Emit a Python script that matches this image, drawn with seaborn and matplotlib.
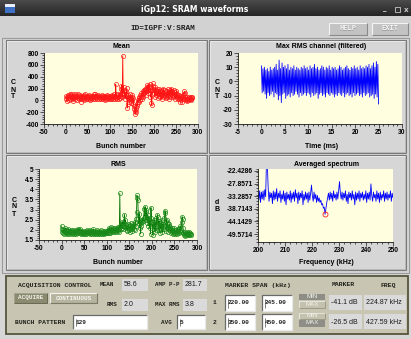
import numpy as np
import matplotlib
matplotlib.use("Agg")
import matplotlib.pyplot as plt
import seaborn as sns
from matplotlib.patches import Rectangle
from matplotlib.ticker import MultipleLocator

# ---------------------------------------------------------------- data
mean_cnt = [
    70, 20, -10, 60, 90, 40, 10, 80, 110, 50, 30, 90, 70, 20, 100, 60, -10, 40, 80, 50,
    100, 30, 60, 90, 10, 50, 80, 40, 110, 70, 20, 60, 90, 30, -20, 50, 80, 60, 20, 70,
    90, 40, 10, 60, 100, 50, 30, 70, 40, 80, 20, 60, 90, 50, 10, 40, 70, 30, 60, 80,
    40, 20, 70, 100, 50, 30, 60, 110, 80, 40, 60, 20, 70, 90, 50, 30, 60, 40, 80, 50,
    20, 60, 90, 40, 70, 30, 50, 80, 10, 60, 40, 70, 30, 90, 50, 20, 60, 40, 70, 30,
    50, 80, 20, 60, 40, 90, 30, 70, 50, 100, 60, 30, 80, 270, 40, 110, 60, 20, 90, 50,
    30, 80, 110, 40, 70, 200, 250, 100, 60, 750, 120, 230, 180, 70, 140, 30, 90, 160, 210, -130,
    -60, 40, 90, 20, -20, 60, 100, 30, -40, 50, 90, 10, -60, 40, -100, -150, -180, -230, -140, -200,
    -120, -60, -90, 0, -30, 40, -20, 60, 10, 90, 50, 120, 30, 80, 150, 100, 60, 170, 120, 200,
    140, 90, 180, 230, 150, 260, 200, 120, 250, 180, 280, 220, 60, 150, -40, -80, 170, 290, 240, 200,
    130, 180, 60, 220, 150, 90, 200, 120, 40, 160, 110, 190, 70, 140, 50, 180, 100, 130, 20, 160,
    90, 200, 50, 130, 170, 80, 110, 40, 150, 100, 60, 190, 120, 30, 140, 80, 170, 60, 110, 200,
    130, 90, 160, 50, 120, 180, 70, 140, 30, 110, 80, 150, 40, 100, 20, 60, 90, 30, -20, 70,
    40, 80, 10, 50, -30, 60, 20, 90, 110, 150, 130, 60, 30, 10, 50, -10, 20, 40, 0, 30,
    50, 20, 40, 10, 60, 30, 50, 40,
]

rms_cnt = [
    2.2, 2.05, 1.9, 1.85, 2.0, 1.95, 1.8, 1.9, 2.1, 1.85, 1.95, 2.0, 1.8, 1.9, 1.85, 2.05, 1.9, 1.8, 1.95, 1.9,
    1.85, 2.0, 1.9, 1.8, 1.95, 1.85, 2.0, 1.9, 1.8, 1.85, 1.95, 1.9, 1.8, 2.0, 1.85, 1.9, 2.05, 1.95, 2.0, 1.85,
    2.05, 1.9, 1.85, 1.8, 1.95, 1.9, 1.85, 1.8, 1.9, 1.95, 1.85, 1.8, 1.9, 1.85, 1.95, 1.8, 1.9, 2.0, 1.85, 1.9,
    1.95, 1.85, 1.8, 1.9, 2.0, 1.85, 1.9, 1.8, 1.95, 1.85, 2.05, 1.9, 1.8, 1.85, 1.95, 1.9, 1.8, 1.85, 1.9, 2.0,
    1.85, 1.8, 1.9, 1.95, 1.85, 1.8, 1.9, 1.85, 2.0, 1.9, 1.8, 1.85, 1.95, 1.9, 1.85, 1.8, 1.9, 1.95, 1.85, 1.9,
    1.95, 1.85, 1.9, 2.0, 1.85, 2.1, 1.9, 1.85, 2.05, 1.95, 2.15, 1.9, 2.0, 2.1, 1.95, 2.05, 1.9, 2.0, 2.1, 1.95,
    2.0, 1.9, 2.05, 2.1, 1.95, 2.15, 2.0, 1.9, 2.05, 3.8, 2.2, 2.05, 2.3, 2.1, 2.4, 2.2, 2.05, 2.35, 2.2, 2.75,
    2.3, 2.5, 2.1, 2.25, 2.0, 2.15, 1.95, 2.1, 2.3, 2.0, 2.2, 1.9, 2.1, 2.35, 2.05, 2.2, 1.95, 2.1, 2.3, 2.15,
    2.05, 2.25, 2.0, 2.4, 2.2, 2.55, 2.9, 3.7, 3.55, 3.45, 2.6, 2.3, 2.8, 2.1, 2.4, 1.8, 2.2, 2.35, 2.5, 2.4,
    2.55, 2.45, 2.6, 3.05, 2.7, 3.15, 2.9, 2.5, 3.0, 2.6, 2.35, 2.75, 2.2, 2.6, 2.5, 2.1, 2.45, 1.8, 3.1, 2.6,
    2.4, 2.2, 1.75, 2.3, 2.05, 2.5, 2.15, 1.9, 2.35, 2.0, 2.6, 2.2, 2.75, 2.65, 2.3, 2.0, 2.45, 1.85, 2.2, 2.1,
    2.35, 2.0, 2.5, 1.9, 2.15, 2.3, 2.05, 2.2, 2.6, 2.95, 2.85, 2.45, 1.95, 2.5, 2.1, 2.35, 1.9, 2.2, 2.05, 2.3,
    2.0, 2.15, 1.85, 2.05, 1.9, 2.1, 1.8, 1.95, 2.0, 1.85, 2.1, 1.9, 1.8, 2.0, 1.85, 1.95, 1.8, 2.05, 1.9, 2.0,
    1.85, 2.1, 1.95, 2.2, 1.9, 2.0, 2.4, 2.65, 2.55, 2.1, 1.85, 1.9, 1.75, 1.8, 1.7, 1.85, 1.75, 1.8, 1.9, 1.75,
    1.8, 1.85, 1.75, 1.9, 1.8, 1.85, 1.75, 1.8,
]

max_rms_signal = [
    11, -8, 9, -7, 10, -9, 8, -12, 9, -8, 7, -10, 10, -9, 8, -7, 9, -11, 10, -8,
    12, -9, 8, -13, 15, -10, 9, -15, 13, -9, 10, -8, 11, -12, 9, -10, 12, -9, 8, -11,
    10, -8, 9, -10, 11, -9, 8, -7, 10, -9, 9, -11, 8, -8, 10, -10, 9, -9, 11, -8,
    9, -10, 10, -8, 8, -9, 11, -11, 9, -8, 10, -10, 12, -9, 9, -8, 10, -12, 8, -9,
    9, -8, 11, -10, 10, -9, 8, -11, 10, -8, 9, -9, 11, -10, 8, -8, 10, -9, 9, -11,
    10, -9, 8, -10, 9, -8, 11, -9, 10, -10, 8, -8, 9, -11, 10, -9, 11, -8, 9, -10,
    8, -9, 10, -11, 9, -8, 11, -10, 9, -9, 10, -8, 8, -10, 11, -9, 9, -11, 10, -8,
    9, -10, 11, -9, 10, -8, 12, -11, 9, -10, 11, -9, 13, -12, 10, -9, 14, -11, 12, -16,
]
signal_span_ms = (0.0, 25.0)

spectrum_db = [
    -32.0, -35.0, -31.0, -36.0, -31.5, -34.5, -31.0, -35.0, -30.5, -33.5,
    -18.0, -19.5, -30.0, -35.5, -31.5, -34.0, -32.0, -36.5, -31.0, -35.0,
    -31.5, -34.5, -30.0, -35.5, -32.0, -34.0, -31.0, -36.0, -32.5, -34.5,
    -31.0, -35.5, -32.0, -37.0, -31.5, -34.5, -32.5, -35.0, -31.0, -36.0,
    -32.0, -34.5, -31.5, -35.5, -30.5, -34.0, -32.0, -36.5, -31.5, -35.0,
    -32.0, -34.0, -31.0, -37.0, -32.5, -35.0, -31.5, -34.5, -32.0, -36.0,
    -31.5, -35.0, -32.0, -28.5, -33.0, -35.5, -31.5, -34.5, -32.5, -36.0,
    -33.0, -35.5, -34.0, -36.0, -35.0, -37.0, -36.5, -38.5, -38.0, -41.1,
    -38.5, -36.0, -34.0, -32.0, -35.0, -31.5, -34.5, -32.0, -35.5, -31.0,
    -34.0, -32.5, -35.0, -31.5, -34.5, -30.5, -27.0, -32.0, -34.5, -31.5,
    -35.0, -32.0, -34.0, -31.0, -35.5, -32.5, -36.5, -31.5, -34.0, -32.0,
    -35.0, -31.0, -34.5, -32.5, -37.0, -31.5, -35.0, -32.0, -34.5, -31.0,
    -35.5, -32.0, -34.0, -31.5, -35.0, -32.5, -34.5, -31.0, -36.0, -32.0,
    -34.5, -31.5, -35.0, -28.0, -33.0, -35.5, -31.5, -34.0, -32.5, -35.5,
    -31.0, -34.5, -32.0, -36.0, -31.5, -35.0, -32.5, -34.0, -31.0, -35.5,
    -32.0, -34.5, -31.5, -35.0, -32.5, -34.0, -31.0, -35.5, -32.0, -34.0,
]
spectrum_span_khz = (200.0, 250.0)

spectrum_yticks = [-22.4286, -27.8571, -33.2857, -38.7143, -44.1429, -49.5714]
spectrum_yticklabels = ["-22.4286", "-27.8571", "-33.2857", "-38.7143", "-44.1429", "-49.5714"]

marker1_db, marker1_khz = -41.1, 224.87
marker2_db, marker2_khz = -26.5, 427.59
marker_spans = [("220.00", "245.00"), ("350.00", "450.00")]
mean_value, amp_pp = 58.6, 281.7
rms_value, max_rms = 2.0, 3.8
bunch_pattern, avg_count = "129", "5"

# ---------------------------------------------------------------- style
sns.set_style("ticks")
plt.rcParams["font.family"] = ["Liberation Sans", "DejaVu Sans"]
plt.rcParams["font.weight"] = "bold"
plt.rcParams["axes.unicode_minus"] = False

WIN_BG = "#d6d6d6"
PLOT_BG = "#ffffe0"
CTRL_BG = "#c8c6b2"
CTRL_EDGE = "#55553c"
MONO = ["Liberation Mono", "DejaVu Sans Mono"]

W, H = 411, 339
fig = plt.figure(figsize=(W / 100, H / 100), dpi=100)
fig.patch.set_facecolor(WIN_BG)

bg = fig.add_axes([0, 0, 1, 1])
bg.axis("off")


def rect(x0, y0, x1, y1, fc, ec="none", lw=0.8, z=1):
    bg.add_patch(Rectangle((x0, y0), x1 - x0, y1 - y0, facecolor=fc,
                           edgecolor=ec, lw=lw, zorder=z))


def bevel(x0, y0, x1, y1, tl, br, lw=0.8, z=3):
    bg.plot([x0, x0, x1], [y1, y0, y0], color=tl, lw=lw, zorder=z, solid_capstyle="butt")
    bg.plot([x0, x1, x1], [y1, y1, y0], color=br, lw=lw, zorder=z, solid_capstyle="butt")


def txt(x, y, s, size=4.6, color="#20201a", family=None, weight="bold", ha="center", **kw):
    bg.text(x, y, s, fontsize=size, color=color, family=family or MONO, weight=weight,
            ha=ha, va="center", zorder=6, **kw)


def px_axes(x0, y0, x1, y1):
    return fig.add_axes([x0 / W, 1 - y1 / H, (x1 - x0) / W, (y1 - y0) / H])


# ---------------------------------------------------------------- window chrome
grad = np.linspace(0, 1, 16).reshape(-1, 1)
bg.imshow(grad, extent=(0, W, 16, 0), cmap=plt.matplotlib.colors.LinearSegmentedColormap.from_list(
    "tb", ["#4a4a4a", "#262626"]), aspect="auto", zorder=1)
bg.set_xlim(0, W)
bg.set_ylim(H, 0)
rect(5, 4, 15, 13, "#3d6fc4", z=2)
rect(5, 4, 15, 6.5, "#e8eefa", z=2)
txt(195, 9, "iGp12: SRAM waveforms", size=5.6, color="white", family=["DejaVu Sans"])
txt(385, 9.5, "_", size=5, color="#c8c8c8", family=["DejaVu Sans"])
rect(394.5, 7, 399.5, 11.5, "none", "#c8c8c8", lw=0.6, z=3)
txt(406, 9.5, "x", size=5.2, color="#c8c8c8", family=["DejaVu Sans"])

rect(0, 16, W, 38, "#d2d2d2", z=1)
txt(163, 29, "ID=IGPF:V:SRAM", size=5.6, color="#1e1e1e")
for (bx0, bx1, lab) in [(329, 367, "HELP"), (372, 408, "EXIT")]:
    rect(bx0, 23, bx1, 35, "#c3c3c3", z=2)
    bevel(bx0, 23, bx1, 35, "#f4f4f4", "#8a8a8a", lw=0.8)
    txt((bx0 + bx1) / 2 + 0.4, 29.4, lab, size=5.0, color="#9a9a9a")
    txt((bx0 + bx1) / 2, 29, lab, size=5.0, color="#f8f8f8")

# plot frames
rect(2, 38, 409, 273, "none", "#9a9a9a", lw=0.8, z=1)
for (px0, py0, px1, py1) in [(6, 40, 207, 153), (209, 40, 406, 153),
                             (6, 155, 207, 270), (209, 155, 406, 270)]:
    rect(px0, py0, px1, py1, WIN_BG, "#7a7a7a", lw=0.8, z=1)
    bevel(px0 + 1, py0 + 1, px1 - 1, py1 - 1, "#f2f2f2", "#b0b0b0", lw=0.5, z=2)

# ---------------------------------------------------------------- plots


def style_axes(ax, xlim, ylim, xmajor, xminor, ymajor, yminor):
    ax.set_facecolor(PLOT_BG)
    ax.set_xlim(*xlim)
    ax.set_ylim(*ylim)
    ax.set_xlabel("")
    ax.set_ylabel("")
    for s in ("top", "right"):
        ax.spines[s].set_visible(False)
    for s in ("left", "bottom"):
        ax.spines[s].set_linewidth(0.6)
        ax.spines[s].set_color("#1a1a1a")
    ax.xaxis.set_major_locator(MultipleLocator(xmajor))
    ax.xaxis.set_minor_locator(MultipleLocator(xminor))
    if ymajor is not None:
        ax.yaxis.set_major_locator(MultipleLocator(ymajor))
        ax.yaxis.set_minor_locator(MultipleLocator(yminor))
    ax.tick_params(which="both", direction="out", width=0.5, color="#1a1a1a",
                   labelsize=4.8, pad=1.2, labelcolor="black")
    ax.tick_params(which="major", length=2.6)
    ax.tick_params(which="minor", length=1.4)


bunch = np.arange(len(mean_cnt))

# Mean
ax_mean = px_axes(44, 53, 198, 124)
sns.lineplot(x=bunch, y=mean_cnt, ax=ax_mean, color="#ff0000", lw=0.6, marker="o",
             markersize=3.0, markerfacecolor="none", markeredgecolor="#ff1a1a",
             markeredgewidth=0.5, estimator=None, sort=False)
style_axes(ax_mean, (-50, 300), (-400, 800), 50, 10, 200, 40)

# Max RMS channel
t_ms = np.linspace(*signal_span_ms, len(max_rms_signal))
ax_sig = px_axes(238, 53, 402, 124)
sns.lineplot(x=t_ms, y=max_rms_signal, ax=ax_sig, color="#0000ff", lw=0.6,
             estimator=None, sort=False)
style_axes(ax_sig, (-5, 30), (-30, 20), 5, 1, 10, 2)

# RMS
ax_rms = px_axes(39, 169, 197, 240)
sns.lineplot(x=bunch, y=rms_cnt, ax=ax_rms, color="#007000", lw=0.6, marker="o",
             markersize=3.0, markerfacecolor="none", markeredgecolor="#1a8a1a",
             markeredgewidth=0.5, estimator=None, sort=False)
style_axes(ax_rms, (-50, 300), (1.5, 5), 50, 10, 0.5, 0.1)
ax_rms.yaxis.set_major_formatter(plt.FuncFormatter(lambda v, p: f"{v:g}"))

# Averaged spectrum
f_khz = np.linspace(*spectrum_span_khz, len(spectrum_db))
ax_sp = px_axes(258, 169, 393, 242)
sns.lineplot(x=f_khz, y=spectrum_db, ax=ax_sp, color="#0000ff", lw=0.6,
             estimator=None, sort=False)
ax_sp.plot([marker1_khz], [marker1_db], marker="o", markersize=3.6,
           markerfacecolor="none", markeredgecolor="#ff2020", markeredgewidth=0.6,
           zorder=5, clip_on=False)
style_axes(ax_sp, (200, 250), (-53.0, -21.6), 10, 2, None, None)
ax_sp.set_yticks(spectrum_yticks)
ax_sp.set_yticklabels(spectrum_yticklabels)
ax_sp.yaxis.set_minor_locator(MultipleLocator(38 / 7 / 4))

# titles, axis labels
lab_kw = dict(size=5.0, color="black", family=["Liberation Sans"])
txt(121, 47, "Mean", **lab_kw)
txt(121, 146, "Bunch number", **lab_kw)
txt(13, 90, "C\nN\nT", linespacing=1.0, **lab_kw)
txt(321, 47, "Max RMS channel (filtered)", **lab_kw)
txt(322, 146, "Time (ms)", **lab_kw)
txt(217, 90, "C\nN\nT", linespacing=1.0, **lab_kw)
txt(118, 164, "RMS", **lab_kw)
txt(118, 262, "Bunch number", **lab_kw)
txt(14, 207, "C\nN\nT", linespacing=1.0, **lab_kw)
txt(326, 164, "Averaged spectrum", **lab_kw)
txt(326, 262, "Frequency (kHz)", **lab_kw)
txt(217, 206, "d\nB", linespacing=1.0, **lab_kw)

# ---------------------------------------------------------------- control panel
rect(6, 276, 408, 334, CTRL_BG, CTRL_EDGE, lw=1.3, z=1)

txt(18, 285, "ACQUISITION CONTROL", ha="left")
txt(100, 285, "MEAN", ha="left", size=4.3)
txt(155, 285, "AMP P-P", ha="left", size=4.2)
txt(107, 305, "RMS", ha="left", size=4.3)
txt(155, 305, "MAX RMS", ha="left", size=4.2)
txt(15, 322, "BUNCH PATTERN", ha="left")
txt(161, 322, "AVG", ha="left", size=4.3)

val_kw = dict(size=5.0, color="#1a1a1a", family=["Liberation Sans"], weight="normal", ha="left")
for (x0, x1, y0, y1, s) in [(122, 148, 279, 291, f"{mean_value:.1f}"),
                            (183, 207, 279, 291, f"{amp_pp:.1f}"),
                            (122, 148, 299, 311, f"{rms_value:.1f}"),
                            (183, 207, 299, 311, f"{max_rms:.1f}")]:
    rect(x0, y0, x1, y1, "#dadada", z=2)
    txt(x0 + 1.5, (y0 + y1) / 2, s, **val_kw)

# buttons
rect(14, 293, 47, 303, "#8a8a70", z=2)
bevel(14, 293, 47, 303, "#a8a890", "#5a5a44", lw=0.6)
txt(30.5, 298, "ACQUIRE", size=4.3, color="#f2f2ea")
rect(50, 293, 97, 303, "#b6b49e", z=2)
bevel(50, 293, 97, 303, "#f4f4ee", "#7a7a66", lw=0.8)
txt(73.5, 298, "CONTINUOUS", size=4.3, color="#f6f6f0")


def entry(x0, y0, x1, y1, s):
    rect(x0, y0, x1, y1, "white", z=2)
    bevel(x0, y0, x1, y1, "#6a6a6a", "#e8e8e8", lw=0.9)
    bg.plot([x0 + 2.5, x0 + 2.5], [y0 + 3.5, y1 - 3.5], color="#202020", lw=0.4, zorder=5)
    txt(x0 + 3, (y0 + y1) / 2, s, size=4.4, ha="left", color="#202020")


entry(73, 315, 147, 329, bunch_pattern)
entry(177, 315, 205, 329, avg_count)

# marker section
txt(225, 285, "MARKER SPAN (kHz)", ha="left")
txt(343, 285, "MARKER")
txt(388, 285, "FREQ")
rows = [(303, 295, 311, marker1_db, marker1_khz, True),
        (322, 314, 330, marker2_db, marker2_khz, False)]
for i, (yc, y0, y1, db, khz, min_dark) in enumerate(rows):
    txt(215, yc, str(i + 1))
    entry(225, y0, 255, y1, marker_spans[i][0])
    entry(262, y0, 292, y1, marker_spans[i][1])
    for (by0, by1, lab, dark) in [(yc - 9.5, yc - 3.0, "MIN", min_dark),
                                  (yc - 2.5, yc + 4.5, "MAX", not min_dark)]:
        fc = "#8e8e86" if dark else "#c4c2ae"
        rect(299, by0, 325, by1, fc, z=2)
        if not dark:
            bevel(299, by0, 325, by1, "#f2f2ea", "#8a8a76", lw=0.5)
        txt(312, (by0 + by1) / 2, lab, size=4.4, color="#f4f4f0", family=["Liberation Sans"],
            weight="normal")
    rect(329, y0, 362, y1 - 1, "#dadada", z=2)
    txt(331, yc, f"{db:.1f} dB", **val_kw)
    rect(364, y0, 406, y1 - 1, "#dadada", z=2)
    txt(365.5, yc, f"{khz:.2f} kHz", **val_kw)

fig.savefig("out.png", dpi=100, facecolor=fig.get_facecolor())
